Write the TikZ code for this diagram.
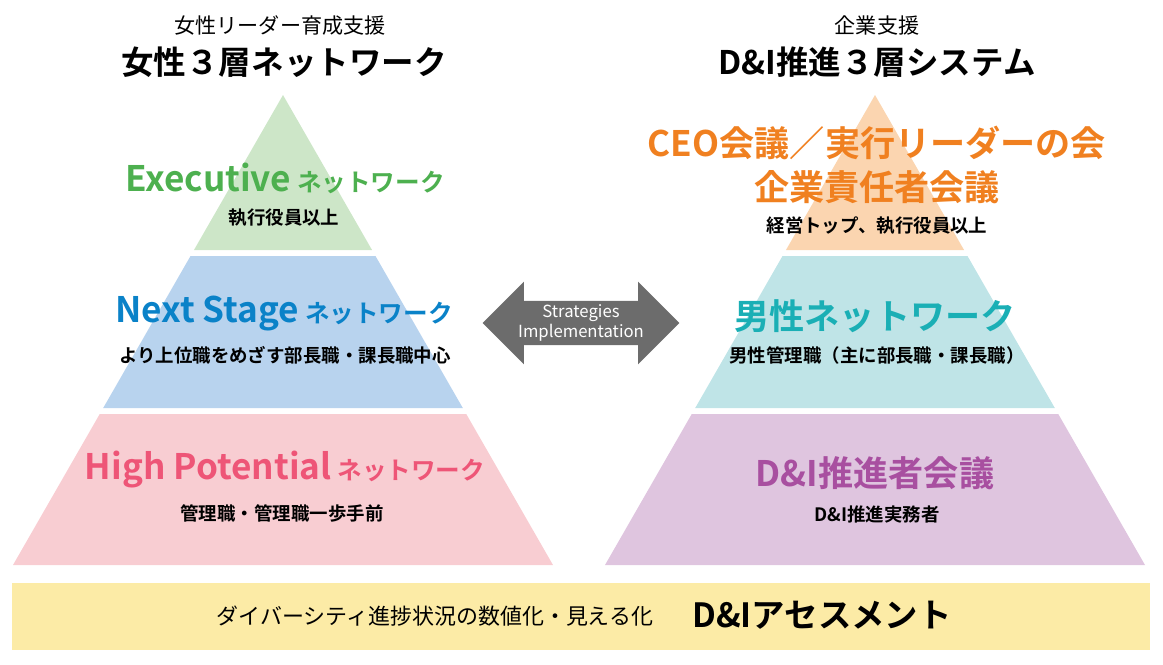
\documentclass[tikz,border=0pt]{standalone}
\usepackage{fontspec}
\setmainfont{Noto Sans CJK JP}[BoldFont={* Bold}]
\usetikzlibrary{shapes.arrows}
\definecolor{grnfill}{HTML}{CDE6C8}\definecolor{grntxt}{HTML}{4DB04F}
\definecolor{blufill}{HTML}{B8D3EE}\definecolor{blutxt}{HTML}{0A82C8}
\definecolor{pnkfill}{HTML}{F8CDD2}\definecolor{pnktxt}{HTML}{EE5577}
\definecolor{orgfill}{HTML}{FBD5B0}\definecolor{orgtxt}{HTML}{F08020}
\definecolor{cyafill}{HTML}{BFE4E7}\definecolor{cyatxt}{HTML}{1AAFB5}
\definecolor{purfill}{HTML}{DFC5DF}\definecolor{purtxt}{HTML}{A84FA0}
\definecolor{bandfill}{HTML}{FCEBA6}
\tikzset{
  head/.style={font=\bfseries\fontsize{20}{22}\selectfont,inner sep=0pt},
  kana/.style={font=\bfseries\fontsize{14}{16}\selectfont},
  sub/.style={font=\bfseries\fontsize{10.5}{12}\selectfont,inner sep=0pt},
  ttl/.style={font=\fontsize{12}{14}\selectfont,inner sep=0pt},
  bigttl/.style={font=\bfseries\fontsize{18.5}{20}\selectfont,inner sep=0pt},
}
\begin{document}
\begin{tikzpicture}[x=0.02cm,y=-0.02cm,declare function={hw(\y)=(\y-95)*0.574468;}]
\useasboundingbox (0,0) rectangle (1163,664);
% left pyramid
\fill[grnfill] (283,95) -- ({283+hw(250)},250) -- ({283-hw(250)},250) -- cycle;
\fill[blufill] ({283-hw(256)},256) -- ({283+hw(256)},256) -- ({283+hw(408)},408) -- ({283-hw(408)},408) -- cycle;
\fill[pnkfill] ({283-hw(414)},414) -- ({283+hw(414)},414) -- ({283+hw(565)},565) -- ({283-hw(565)},565) -- cycle;
% right pyramid
\fill[orgfill] (875,95) -- ({875+hw(250)},250) -- ({875-hw(250)},250) -- cycle;
\fill[cyafill] ({875-hw(256)},256) -- ({875+hw(256)},256) -- ({875+hw(408)},408) -- ({875-hw(408)},408) -- cycle;
\fill[purfill] ({875-hw(414)},414) -- ({875+hw(414)},414) -- ({875+hw(565)},565) -- ({875-hw(565)},565) -- cycle;
% titles
\node[ttl] (ltsub) at (280,25) {女性リーダー育成支援};
\node[bigttl] (lttl) at (284,62) {女性３層ネットワーク};
\node[ttl] (rtsub) at (877,25) {企業支援};
\node[bigttl] (rttl) at (877,62) {D\&I推進３層システム};
% left labels
\node[head,text=grntxt] (exec) at (285,178) {Executive\,{\fontsize{14}{16}\selectfont ネットワーク}};
\node[sub] (execs) at (284,218) {執行役員以上};
\node[head,text=blutxt] (next) at (284,314) {Next Stage\,{\fontsize{14}{16}\selectfont ネットワーク}};
\node[sub] (nexts) at (285,355) {より上位職をめざす部長職・課長職中心};
\node[head,text=pnktxt] (high) at (285,470) {High Potential\,{\fontsize{14}{16}\selectfont ネットワーク}};
\node[sub] (highs) at (282,513) {管理職・管理職一歩手前};
% right labels
\node[head,text=orgtxt,align=center] (ceo) at (877,165) {CEO会議／実行リーダーの会\\[3pt]企業責任者会議};
\node[sub] (ceos) at (877,226) {経営トップ、執行役員以上};
\node[head,text=cyatxt] (male) at (875,316) {男性ネットワーク};
\node[sub] (males) at (877,355) {男性管理職（主に部長職・課長職）};
\node[head,text=purtxt] (dni) at (875,473) {D\&I推進者会議};
\node[sub] (dnis) at (877,514) {D\&I推進実務者};
% arrow
\node[double arrow,fill=gray!85!black,text=white,minimum height=112pt,minimum width=47pt,
  double arrow head extend=10pt,inner sep=1pt,align=center,
  font=\fontsize{9.5}{11}\selectfont] (strat) at (581,323) {Strategies\\Implementation};
% bottom band
\fill[bandfill] (12,583) rectangle (1150,650);
\node[font=\fontsize{12.5}{14}\selectfont,inner sep=0pt] (assess) at (435,616) {ダイバーシティ進捗状況の数値化・見える化};
\node[font=\bfseries\fontsize{19}{21}\selectfont,inner sep=0pt] (dnia) at (822,615) {D\&Iアセスメント};
\end{tikzpicture}
\end{document}
